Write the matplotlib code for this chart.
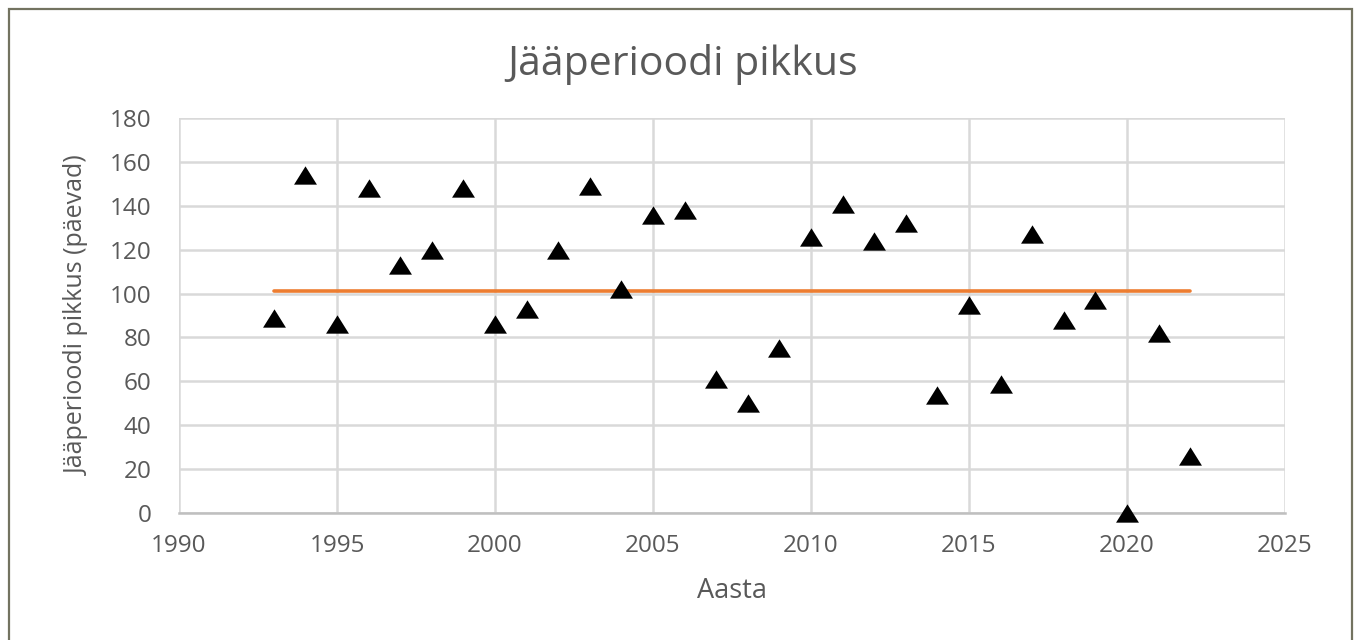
import matplotlib
matplotlib.use("Agg")
import matplotlib.pyplot as plt
from matplotlib.patches import Rectangle

# Ice period length per year (days)
years = [1993, 1994, 1995, 1996, 1997, 1998, 1999, 2000, 2001, 2002,
         2003, 2004, 2005, 2006, 2007, 2008, 2009, 2010, 2011, 2012,
         2013, 2014, 2015, 2016, 2017, 2018, 2019, 2020, 2021, 2022]
days = [89, 154, 86, 148, 113, 120, 148, 86, 93, 120,
        149, 102, 136, 138, 61, 50, 75, 126, 141, 124,
        132, 54, 95, 59, 127, 88, 97, 0, 82, 26]

# Long-term average
mean_years = [1993, 2022]
mean_days = [101, 101]

x_ticks = [1990, 1995, 2000, 2005, 2010, 2015, 2020, 2025]
y_ticks = [0, 20, 40, 60, 80, 100, 120, 140, 160, 180]

title = "Jääperioodi pikkus"
x_label = "Aasta"
y_label = "Jääperioodi pikkus (päevad)"

plt.rcParams["font.family"] = ["Open Sans", "DejaVu Sans"]
text_color = "#595959"
grid_color = "#d9d9d9"

W, H = 1355, 640
fig = plt.figure(figsize=(W / 100, H / 100), dpi=100)
fig.patch.set_facecolor("white")

# chart border
fig.patches.append(Rectangle((9 / W, -0.05), (1352 - 9) / W, (H - 9) / H + 0.05,
                             transform=fig.transFigure, fill=False,
                             edgecolor="#737360", linewidth=1.6))

ax = fig.add_axes([179 / W, 1 - 513 / H, (1285 - 179) / W, (513 - 118) / H])

ax.plot(mean_years, mean_days, color="#ed7d31", linewidth=2.6,
        solid_capstyle="round", zorder=2)

tri = [(-1.0, -0.8), (1.0, -0.8), (0.0, 0.8), (-1.0, -0.8)]
ax.scatter(years, days, marker=tri, s=16.5 ** 2, color="black",
           linewidths=0, zorder=3, clip_on=False)

ax.set_xlim(1990, 2025)
ax.set_ylim(0, 180)
ax.set_xticks(x_ticks)
ax.set_yticks(y_ticks)
ax.grid(True, color=grid_color, linewidth=1.8)
ax.set_axisbelow(True)

for side in ("top", "right", "left"):
    ax.spines[side].set_visible(False)
ax.spines["bottom"].set_color("#bfbfbf")
ax.spines["bottom"].set_linewidth(1.8)
ax.spines["bottom"].set_zorder(1)

ax.tick_params(axis="both", length=0, labelsize=17.5, labelcolor=text_color)
ax.tick_params(axis="y", pad=20)
ax.tick_params(axis="x", pad=15)

ax.set_xlabel(x_label, fontsize=19.5, color=text_color, labelpad=14)
ax.set_ylabel(y_label, fontsize=18, color=text_color, labelpad=14)
fig.text(683 / W, 1 - 75 / H, title, fontsize=29.5, color=text_color,
         ha="center", va="baseline")

fig.savefig("out.png", dpi=100, facecolor="white")
